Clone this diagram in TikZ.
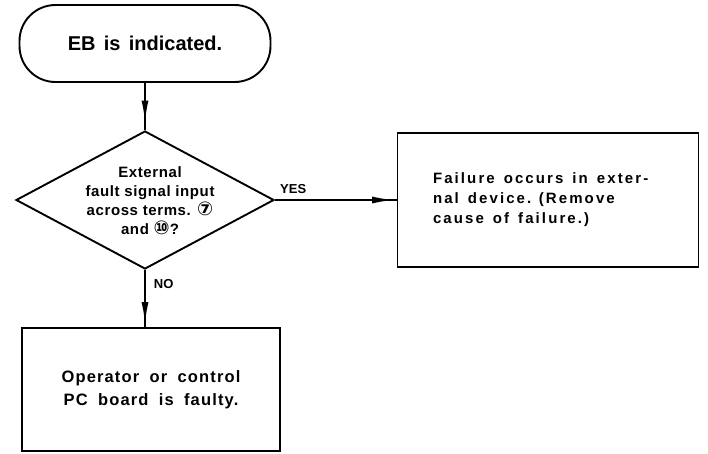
\documentclass[tikz,border=0pt]{standalone}
\usepackage{fontspec}
\setmainfont{Liberation Sans}
\newfontfamily\circfont{DejaVu Sans}
\newfontfamily\startfont{Liberation Sans}[WordSpace=1.5]
\newfontfamily\askfont{Liberation Sans}[LetterSpace=4]
\newfontfamily\extfont{Liberation Sans}[LetterSpace=14]
\newfontfamily\boardfont{Liberation Sans}[LetterSpace=7,WordSpace=1.8]
\newcommand\widespaces{\spaceskip=9pt plus 1pt\relax}
\usetikzlibrary{shapes.geometric,arrows.meta,decorations.markings}

\tikzset{
  box/.style={draw, line width=1.9pt, inner sep=0pt, font=\bfseries},
  flow/.style={draw, line width=1.9pt, postaction={decorate},
    decoration={markings, mark=at position #1 with {\arrow{Latex[length=22pt,width=7pt]}}}},
  answer/.style={font=\fontsize{13}{15}\bfseries\selectfont, inner sep=1pt},
}

\begin{document}
\begin{tikzpicture}[x=1pt, y=-1pt]
        \useasboundingbox (0,0) rectangle (708,453);

        % start
        \node[box, rounded corners=36pt, minimum width=251pt, minimum height=77pt,
          font=\startfont\fontsize{20}{24}\bfseries\selectfont] (start) at (145,43.5) {EB is indicated.};

        % question
        \node[box, diamond, minimum width=258pt, minimum height=138pt] (ask) at (145,200) {};
        \node[align=center, inner sep=0pt, font=\askfont\fontsize{15}{19}\bfseries\selectfont]
          (asktext) at (150,201) {External\\fault signal input\\across terms. {\circfont\fontsize{19}{19}\selectfont ⑦}\\and {\circfont\fontsize{19}{19}\selectfont ⑩}?};

        % yes branch
        \node[box, minimum width=301pt, minimum height=134pt, text width=230pt, align=left,
          font=\extfont\fontsize{15}{20}\bfseries\selectfont]
          (extdev) at (548,200) {\widespaces Failure occurs in exter-\\nal device. (Remove\\cause of failure.)};

        % no branch
        \node[box, minimum width=258pt, minimum height=123pt, align=center,
          font=\boardfont\fontsize{16.5}{23}\bfseries\selectfont]
          (board) at (151,389.5) {Operator or control\\PC board is faulty.};

        % arrows
        \path[flow=0.84] (start.south) -- (ask.north);
        \path[flow=0.98] (ask.east) -- node[answer, pos=0.15, above=4pt] {YES} (ask.east -| extdev.west);
        \path[flow=0.95] (ask.south) -- node[answer, pos=0.24, right=7pt] {NO} (ask.south |- board.north);
\end{tikzpicture}
\end{document}
